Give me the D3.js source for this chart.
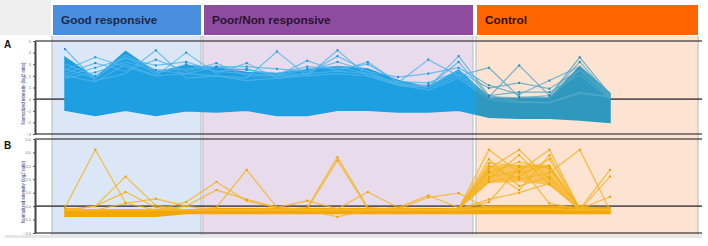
<!DOCTYPE html>
<html>
<head>
<meta charset="utf-8">
<script src="https://cdn.jsdelivr.net/npm/d3@7/dist/d3.min.js"></script>
<style>
body { margin: 0; background: #fff; }
svg { display: block; font-family: "Liberation Sans", Arial, sans-serif; }
</style>
</head>
<body>
<div id="canvas"></div>
<script>
var width = 708;
var height = 246;

// groups / samples
const groups = ["Good responsive", "Poor/Non responsive", "Control"];
const goodSamples = ["G1", "G2", "G3", "G4", "G5"];
const poorSamples = ["P1", "P2", "P3", "P4", "P5", "P6", "P7", "P8", "P9"];
const ctrlSamples = ["C1", "C2", "C3", "C4", "C5"];
const samples = goodSamples.concat(poorSamples, ctrlSamples);

const ticksA = [5, 4, 3, 2, 1, 0, -1, -2, -3];
const ticksB = [5, 4, 3, 2, 1, 0, -1, -2];
const axisTitle = "Normalized intensity (log2 ratio)";

// panel A: dense mass of profiles (upper / lower envelope) + outlying profiles
const bandA_hi = [3.6, 1.8, 4.1, 2.3, 2.9, 2.7, 2.3, 2.2, 2.5, 2.8, 2.6, 1.6, 1.0, 2.5, 0.1, 0.0, 0.1, 2.8, 0.5];
const bandA_lo = [-0.95, -1.4, -0.95, -1.4, -1.0, -1.1, -0.95, -1.4, -1.4, -0.95, -0.95, -1.1, -1.1, -0.95, -1.55, -1.65, -1.65, -1.8, -2.0];
const linesA = [
  [4.3, 1.6, 2.2, 4.2, 1.8, 2.0, 1.6, 1.8, 2.0, 4.2, 2.0, 1.2, 0.8, 1.8, 0.0, -0.3, -0.3, 0.5, 0.2],
  [2.5, 3.6, 2.8, 2.0, 2.2, 2.0, 1.8, 4.1, 2.0, 2.2, 2.0, 1.2, 1.0, 3.7, 0.3, -0.2, -0.3, 0.6, 0.2],
  [2.0, 1.5, 3.0, 2.0, 4.0, 2.2, 3.1, 1.8, 2.2, 2.4, 2.2, 1.4, 3.4, 2.0, 0.2, 0.1, 0.3, 3.6, 0.4],
  [2.2, 3.1, 2.4, 3.4, 2.4, 3.1, 2.0, 2.0, 3.3, 2.4, 3.2, 1.4, 1.0, 2.0, 2.7, 0.2, 0.1, 2.5, 0.2],
  [2.0, 2.7, 3.5, 2.9, 3.2, 2.4, 2.2, 2.0, 2.2, 3.7, 2.4, 1.3, 1.1, 3.2, 0.2, 2.9, 0.3, 3.2, 0.3],
  [1.8, 2.3, 3.2, 2.5, 2.6, 2.8, 2.8, 2.6, 2.4, 3.2, 2.4, 1.9, 2.2, 2.7, 1.2, 0.4, 1.6, 2.8, 0.3],
  [3.0, 2.0, 3.8, 2.5, 2.2, 2.8, 2.5, 2.2, 2.8, 2.6, 3.0, 1.5, 1.4, 2.4, 0.95, 1.4, 0.9, 2.5, 0.1],
  [2.6, 1.8, 3.6, 2.2, 3.0, 2.4, 2.6, 2.0, 2.6, 2.8, 2.2, 1.2, 1.2, 2.2, 0.3, 0.6, 0.6, 2.1, 0.0]
];

// panel B
const bandB_hi = [-0.2, -0.3, -0.3, -0.3, -0.3, -0.2, -0.2, -0.2, -0.2, -0.2, -0.2, -0.2, -0.2, -0.2, 0.0, 0.0, 0.0, -0.1, -0.1];
const bandB_lo = [-0.75, -0.75, -0.75, -0.75, -0.55, -0.55, -0.55, -0.55, -0.55, -0.55, -0.55, -0.55, -0.55, -0.55, -0.55, -0.55, -0.55, -0.55, -0.55];
const massB_hi = [null, null, null, null, null, null, null, null, null, null, null, null, null, -0.2, 3.0, 3.1, 3.1, -0.1, null];
const massB_lo = [null, null, null, null, null, null, null, null, null, null, null, null, null, -0.2, 1.7, 1.8, 1.6, -0.1, null];
const linesB = [
  [-0.1, 4.2, 0.25, -0.3, -0.3, -0.3, -0.3, -0.3, -0.3, -0.3, -0.3, -0.3, -0.3, -0.3, -0.2, -0.2, -0.2, -0.3, -0.3],
  [-0.3, 0.0, 2.2, 0.05, -0.3, -0.3, -0.3, -0.3, -0.3, -0.3, -0.3, -0.3, -0.3, -0.3, -0.2, -0.2, -0.2, -0.3, -0.3],
  [-0.3, 0.0, 1.05, -0.1, -0.3, -0.3, -0.3, -0.3, -0.3, -0.3, -0.3, -0.3, -0.3, -0.3, -0.2, -0.2, -0.2, -0.3, -0.3],
  [-0.3, -0.3, 0.2, 0.55, 0.0, -0.3, -0.3, -0.3, -0.3, -0.3, -0.3, -0.3, -0.3, -0.3, -0.2, -0.2, -0.2, -0.3, -0.3],
  [-0.3, -0.3, -0.3, -0.3, 0.3, 1.8, 0.4, -0.1, -0.3, -0.3, -0.3, -0.3, -0.3, -0.3, -0.2, -0.2, -0.2, -0.3, -0.3],
  [-0.3, -0.3, -0.3, -0.3, 0.0, 1.2, 0.5, -0.1, -0.3, -0.3, -0.3, -0.3, -0.3, -0.3, -0.2, -0.2, -0.2, -0.3, -0.3],
  [-0.3, -0.3, -0.3, -0.3, -0.3, -0.1, 2.7, -0.1, -0.3, -0.3, -0.3, -0.3, -0.3, -0.3, -0.2, -0.2, -0.2, -0.3, -0.3],
  [-0.3, -0.3, -0.3, -0.3, -0.3, -0.3, -0.3, -0.1, 0.4, -0.2, -0.3, -0.3, -0.3, -0.3, -0.2, -0.2, -0.2, -0.3, -0.3],
  [-0.3, -0.3, -0.3, -0.3, -0.3, -0.3, -0.3, -0.3, -0.1, 3.65, -0.1, -0.3, -0.3, -0.3, -0.2, -0.2, -0.2, -0.3, -0.3],
  [-0.3, -0.3, -0.3, -0.3, -0.3, -0.3, -0.3, -0.3, -0.2, 3.4, -0.2, -0.3, -0.3, -0.3, -0.2, -0.2, -0.2, -0.3, -0.3],
  [-0.3, -0.3, -0.3, -0.3, -0.3, -0.3, -0.3, -0.3, -0.3, -0.8, -0.3, -0.3, -0.3, -0.3, -0.2, -0.2, -0.2, -0.3, -0.3],
  [-0.3, -0.3, -0.3, -0.3, -0.3, -0.3, -0.3, -0.3, -0.3, -0.2, 1.05, -0.1, -0.3, -0.3, -0.2, -0.2, -0.2, -0.3, -0.3],
  [-0.3, -0.3, -0.3, -0.3, -0.3, -0.3, -0.3, -0.3, -0.3, -0.3, -0.3, -0.1, 0.8, -0.1, -0.2, -0.2, -0.2, -0.3, -0.3],
  [-0.3, -0.3, -0.3, -0.3, -0.3, -0.3, -0.3, -0.3, -0.3, -0.3, -0.3, -0.2, 0.65, 0.97, -0.2, -0.2, -0.2, -0.3, -0.3],
  [-0.3, -0.3, -0.3, -0.3, -0.3, -0.3, -0.3, -0.3, -0.3, -0.3, -0.3, -0.3, -0.3, -0.2, 4.2, 2.5, 3.0, -0.2, 2.7],
  [-0.3, -0.3, -0.3, -0.3, -0.3, -0.3, -0.3, -0.3, -0.3, -0.3, -0.3, -0.3, -0.3, -0.2, 2.8, 4.2, 2.0, -0.3, 2.2],
  [-0.3, -0.3, -0.3, -0.3, -0.3, -0.3, -0.3, -0.3, -0.3, -0.3, -0.3, -0.3, -0.3, -0.2, 2.2, 2.6, 4.2, -0.2, 0.7],
  [-0.3, -0.3, -0.3, -0.3, -0.3, -0.3, -0.3, -0.3, -0.3, -0.3, -0.3, -0.3, -0.3, -0.2, 3.0, 2.0, 2.5, 4.2, -0.3],
  [-0.3, -0.3, -0.3, -0.3, -0.3, -0.3, -0.3, -0.3, -0.3, -0.3, -0.3, -0.3, -0.3, -0.2, 2.5, 3.3, 2.8, -0.2, -0.3],
  [-0.3, -0.3, -0.3, -0.3, -0.3, -0.3, -0.3, -0.3, -0.3, -0.3, -0.3, -0.3, -0.3, -0.2, 1.8, 2.2, 3.5, -0.2, -0.3],
  [-0.3, -0.3, -0.3, -0.3, -0.3, -0.3, -0.3, -0.3, -0.3, -0.3, -0.3, -0.3, -0.3, -0.2, 3.5, 1.5, 2.2, 0.0, -0.3],
  [-0.3, -0.3, -0.3, -0.3, -0.3, -0.3, -0.3, -0.3, -0.3, -0.3, -0.3, -0.3, -0.3, -0.2, 2.0, 3.8, 1.6, -0.2, -0.3],
  [-0.3, -0.3, -0.3, -0.3, -0.3, -0.3, -0.3, -0.3, -0.3, -0.3, -0.3, -0.3, -0.3, -0.2, 0.3, 2.9, 3.0, -0.3, -0.3],
  [-0.3, -0.3, -0.3, -0.3, -0.3, -0.3, -0.3, -0.3, -0.3, -0.3, -0.3, -0.3, -0.3, -0.2, 2.6, 1.2, 3.8, -0.2, -0.3],
  [-0.3, -0.3, -0.3, -0.3, -0.3, -0.3, -0.3, -0.3, -0.3, -0.3, -0.3, -0.3, -0.3, -0.2, 0.5, 1.0, 1.7, -0.3, -0.3],
  [-0.3, -0.3, -0.3, -0.3, -0.3, -0.3, -0.3, -0.3, -0.3, -0.3, -0.3, -0.3, -0.3, -0.2, 3.2, 3.0, 0.2, -0.2, -0.3]
];

// layout
const sectionX = [[52, 201], [203, 473], [476, 698]];
const headerFill = ["#4a8fdf", "#8d4c9f", "#ff6600"];
const headerInk = ["#1b2848", "#2b1331", "#2a1306"];
const bgFill = ["#dbe7f6", "#e8dcec", "#fde3d2"];

var svg = d3.select("#canvas").append("svg")
  .attr("width", width)
  .attr("height", height)
  .style("background-color", "white");

const x = d3.scalePoint().domain(samples).range([65, 610]);
const yA = d3.scaleLinear().domain([-3, 5]).range([134, 41]);
const yB = d3.scaleLinear().domain([-2, 5]).range([233, 139]);

// backgrounds and headers
svg.append("rect").attr("x", 0).attr("y", 0).attr("width", 51).attr("height", 35).attr("fill", "#efefef");
svg.append("rect").attr("x", 5).attr("y", 235).attr("width", 697).attr("height", 3).attr("fill", "#e6e6e6");

svg.selectAll(".bg").data(sectionX).enter().append("rect")
  .attr("x", d => d[0]).attr("y", 36)
  .attr("width", d => d[1] - d[0]).attr("height", 199)
  .attr("fill", (d, i) => bgFill[i]);

svg.selectAll(".sep").data(sectionX.flat()).enter().append("line")
  .attr("x1", d => d).attr("x2", d => d)
  .attr("y1", 36).attr("y2", 235)
  .attr("stroke", "#c7cbd0").attr("stroke-width", 1.5);

svg.selectAll(".hdr").data(sectionX).enter().append("rect")
  .attr("x", d => d[0] + 1).attr("y", 5)
  .attr("width", d => d[1] - d[0] - 1).attr("height", 30)
  .attr("fill", (d, i) => headerFill[i]);

svg.selectAll(".hdrText").data(groups).enter().append("text")
  .attr("x", (d, i) => sectionX[i][0] + 9)
  .attr("y", 24)
  .attr("font-size", 11.8)
  .attr("font-weight", "bold")
  .attr("fill", (d, i) => headerInk[i])
  .text(d => d);

// clip regions for colour change in the control section
const defs = svg.append("defs");
defs.append("clipPath").attr("id", "clipMain")
  .append("rect").attr("x", 0).attr("y", 0).attr("width", sectionX[2][0]).attr("height", height);
defs.append("clipPath").attr("id", "clipCtrl")
  .append("rect").attr("x", sectionX[2][0]).attr("y", 0).attr("width", width - sectionX[2][0]).attr("height", height);

function panelFrame(y, ticks, label, labelY) {
  const d0 = y.domain();
  [d0[1], 0, d0[0]].forEach(v => {
    svg.append("line")
      .attr("x1", 35).attr("x2", 702)
      .attr("y1", y(v)).attr("y2", y(v))
      .attr("stroke", "#4d4848").attr("stroke-width", 1.7)
      .attr("opacity", 0.9);
  });
  const ax = svg.append("g")
    .attr("transform", "translate(35,0)")
    .call(d3.axisLeft(y).tickValues(ticks).tickSize(2).tickSizeOuter(0).tickPadding(2));
  ax.select(".domain").attr("stroke", "#444").attr("stroke-width", 2);
  ax.selectAll(".tick line").attr("stroke", "#555");
  ax.selectAll(".tick text").attr("font-size", 4).attr("fill", "#777");
  const cy = (y.range()[0] + y.range()[1]) / 2 + 6;
  svg.append("text")
    .attr("transform", "translate(25," + cy + ") rotate(-90)")
    .attr("text-anchor", "middle")
    .attr("font-size", 4.5)
    .attr("fill", "#2a367a")
    .attr("textLength", 62)
    .attr("lengthAdjust", "spacingAndGlyphs")
    .text(axisTitle);
  svg.append("text")
    .attr("x", 4).attr("y", labelY)
    .attr("font-size", 10).attr("font-weight", "bold")
    .attr("fill", "#111")
    .text(label);
}

panelFrame(yA, ticksA, "A", 48);
panelFrame(yB, ticksB, "B", 149);

function drawProfiles(y, band_hi, band_lo, lines, colors, clip, lineWidth) {
  const g = svg.append("g");
  if (clip) g.attr("clip-path", "url(#" + clip + ")");
  const area = d3.area()
    .x((d, i) => x(samples[i]))
    .y0((d, i) => y(band_lo[i]))
    .y1((d, i) => y(band_hi[i]));
  g.append("path").datum(band_hi).attr("d", area)
    .attr("fill", colors.band)
    .attr("stroke", colors.band).attr("stroke-width", 1.5);
  const line = d3.line().x((d, i) => x(samples[i])).y(d => y(d));
  g.selectAll(".prof").data(lines).enter().append("path")
    .attr("d", line)
    .attr("fill", "none")
    .attr("stroke", colors.line)
    .attr("stroke-width", lineWidth)
    .attr("opacity", 0.8);
  // markers only where a profile leaves the dense mass
  lines.forEach(l => {
    const pts = l.map((v, i) => ({ v: v, i: i })).filter(p => p.v > band_hi[p.i] + 0.05 || p.v < band_lo[p.i] - 0.05);
    g.selectAll(null).data(pts).enter().append("rect")
      .attr("x", p => x(samples[p.i]) - 1)
      .attr("y", p => y(p.v) - 1)
      .attr("width", 2).attr("height", 2)
      .attr("fill", colors.dot);
  });
  return g;
}

// panel A
drawProfiles(yA, bandA_hi, bandA_lo, linesA, { band: "#1d9fe2", line: "#4fb4ea", dot: "#1b8fd6" }, "clipMain", 1.2);
drawProfiles(yA, bandA_hi, bandA_lo, linesA, { band: "#2f98bf", line: "#52a8c6", dot: "#2a8bb2" }, "clipCtrl", 1.2);

// panel B
const massArea = d3.area()
  .defined(d => d !== null)
  .x((d, i) => x(samples[i]))
  .y0((d, i) => yB(massB_lo[i]))
  .y1((d, i) => yB(massB_hi[i]));
svg.append("path").datum(massB_hi).attr("d", massArea)
  .attr("fill", "#f7b21a").attr("opacity", 0.65);
drawProfiles(yB, bandB_hi, bandB_lo, linesB, { band: "#f2a800", line: "#f4b424", dot: "#e9a300" }, null, 1.3);
</script>
</body>
</html>
